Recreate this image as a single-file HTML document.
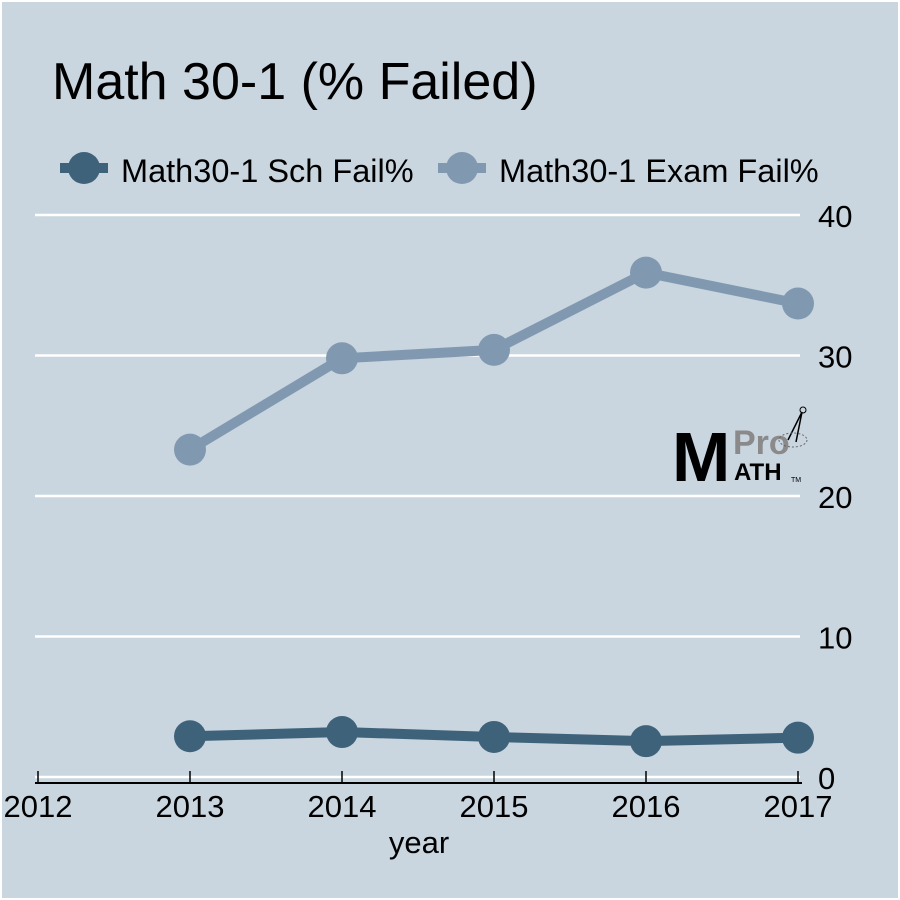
<!DOCTYPE html>
<html><head><meta charset="utf-8"><style>
html,body{margin:0;padding:0;background:#fff}
svg{display:block;font-family:"Liberation Sans",Arial,sans-serif}
</style></head><body>
<svg id="chart" width="900" height="900" viewBox="0 0 900 900">
<rect x="2" y="2" width="896" height="896" fill="#c9d5df"/>
<text x="52" y="99" font-size="52" fill="#000">Math 30-1 (% Failed)</text>
<g>
 <g>
  <line x1="60" y1="168" x2="108" y2="168" stroke="#3f627b" stroke-width="10"/>
  <circle cx="84" cy="168" r="16" fill="#3f627b"/>
  <text x="121" y="182" font-size="32.5" fill="#000">Math30-1 Sch Fail%</text>
 </g>
 <g>
  <line x1="438" y1="168" x2="486" y2="168" stroke="#8199b0" stroke-width="10"/>
  <circle cx="462" cy="168" r="16" fill="#8199b0"/>
  <text x="499" y="182" font-size="32.5" fill="#000">Math30-1 Exam Fail%</text>
 </g>
</g>
<g id="grid"></g>
<g id="axes"></g>
<g>
 <text x="672" y="481" font-size="70" font-weight="bold" fill="#000">M</text>
 <text x="733" y="454" font-size="34" font-weight="bold" fill="#8a8a8a">Pro</text>
 <text x="734" y="480" font-size="24" font-weight="bold" fill="#000">ATH</text>
 <text x="791" y="482" font-size="7" fill="#000">TM</text>
 <path d="M802 412 L788 440 M802 412 L796 442" stroke="#000" stroke-width="1.5" fill="none"/>
 <circle cx="803" cy="410" r="3" fill="none" stroke="#000"/>
 <ellipse cx="793" cy="440" rx="14" ry="7" fill="none" stroke="#666" stroke-dasharray="2,2"/>
</g>
<g id="series"></g>
<text x="419" y="853" font-size="31" text-anchor="middle" fill="#000">year</text>
</svg>
<script>
const years = [2013, 2014, 2015, 2016, 2017];
const schFail = [2.9, 3.2, 2.85, 2.55, 2.8];
const examFail = [23.3, 29.8, 30.4, 35.9, 33.7];
const yTicks = [0, 10, 20, 30, 40];
const xTicks = [2012, 2013, 2014, 2015, 2016, 2017];
const NS = "http://www.w3.org/2000/svg";
const xs = v => 38 + (v - 2012) * 152;
const ys = v => 777 - v * 14.05;
function mk(tag, attrs, parent){const e=document.createElementNS(NS,tag);for(const k in attrs)e.setAttribute(k,attrs[k]);parent.appendChild(e);return e;}
const grid=document.getElementById('grid'), axes=document.getElementById('axes'), series=document.getElementById('series');
yTicks.forEach(t=>{
  const l=mk('line',{x1:35,x2:800,y1:ys(t),y2:ys(t),stroke:'#fff','stroke-width':2.5},grid);
  
  
  const tx=mk('text',{x:818,y:ys(t)+12,'font-size':31,'text-anchor':'start',fill:'#000'},axes);
  tx.textContent=t;
  
  
});
const ax=mk('line',{x1:35,x2:802,y1:783,y2:783,stroke:'#000','stroke-width':2},axes);


xTicks.forEach(t=>{
  const tk=mk('line',{x1:xs(t),x2:xs(t),y1:771,y2:783,stroke:'#000','stroke-width':1.5},axes);
  
  
  const tx=mk('text',{x:xs(t),y:817,'font-size':31,'text-anchor':'middle',fill:'#000'},axes);
  tx.textContent=t;
  
  
});
function drawSeries(vals,color,name){
  const pts=vals.map((v,i)=>xs(years[i])+','+ys(v)).join(' ');
  const pl=mk('polyline',{points:pts,fill:'none',stroke:color,'stroke-width':10,'stroke-linejoin':'round'},series);
  
  
  vals.forEach((v,i)=>{
    const c=mk('circle',{cx:xs(years[i]),cy:ys(v),r:16,fill:color},series);
    
    
  });
}
drawSeries(examFail,'#8199b0','exam-fail');
drawSeries(schFail,'#3f627b','sch-fail');
</script>
</body></html>
